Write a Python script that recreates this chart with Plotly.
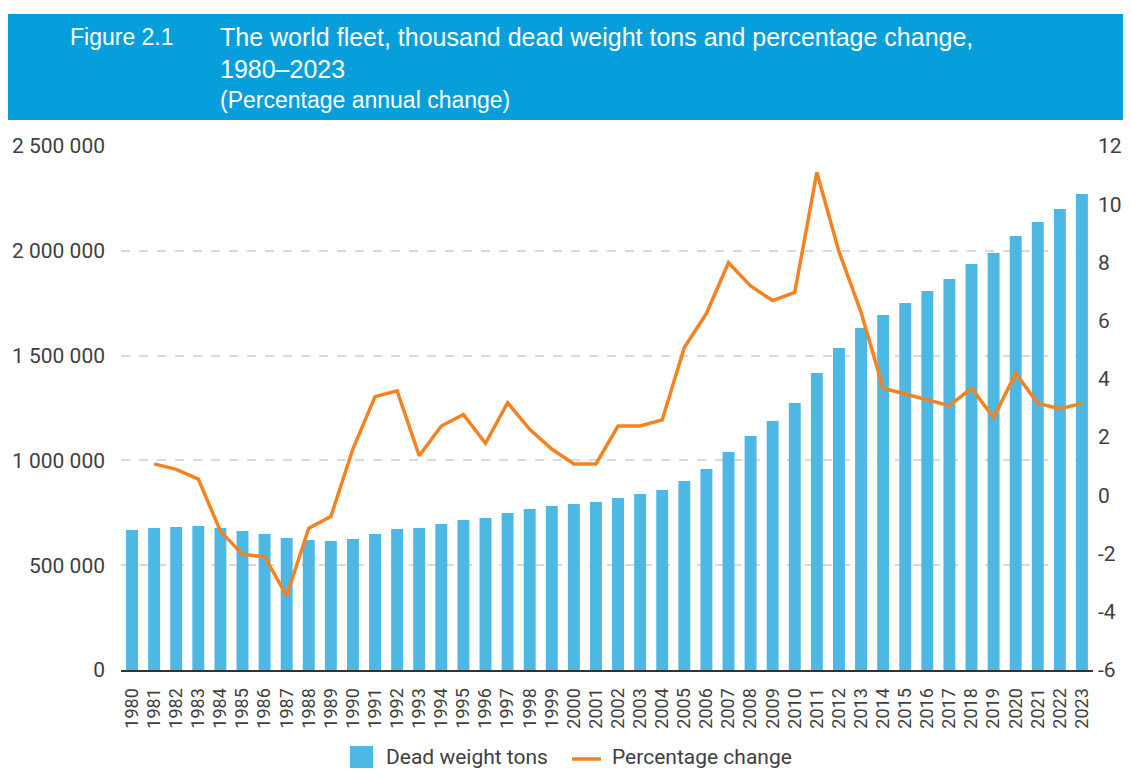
import plotly.graph_objects as go
from plotly.subplots import make_subplots

years = [str(y) for y in range(1980, 2024)]

dwt_thousand = [
    668000, 677000, 682000, 687000, 677000, 663000, 649000, 630000, 620000, 615000,
    625000, 649000, 673000, 677000, 697000, 716000, 725000, 749000, 768000, 782000,
    792000, 802000, 821000, 840000, 859000, 902000, 959000, 1040000, 1116000, 1188000,
    1274000, 1417000, 1536000, 1632000, 1694000, 1751000, 1808000, 1865000, 1937000, 1990000,
    2071000, 2137000, 2200000, 2271000,
]

pct_change = [
    None, 1.08, 0.89, 0.56, -1.23, -2.03, -2.11, -3.45, -1.13, -0.73,
    1.60, 3.39, 3.59, 1.36, 2.38, 2.78, 1.79, 3.18, 2.27, 1.59,
    1.08, 1.08, 2.38, 2.38, 2.59, 5.08, 6.25, 7.99, 7.19, 6.69,
    6.97, 11.10, 8.37, 6.29, 3.68, 3.48, 3.27, 3.08, 3.68, 2.67,
    4.19, 3.16, 2.98, 3.16,
]

left_tickvals = [0, 500000, 1000000, 1500000, 2000000, 2500000]
left_ticktext = ["0", "500 000", "1 000 000", "1 500 000", "2 000 000", "2 500 000"]
right_tickvals = [-6, -4, -2, 0, 2, 4, 6, 8, 10, 12]
right_ticktext = ["-6", "-4", "-2", "0", "2", "4", "6", "8", "10", "12"]

series_names = ["Dead weight tons", "Percentage change"]

fig_title_label = "Figure 2.1"
fig_title_line1 = "The world fleet, thousand dead weight tons and percentage change,"
fig_title_line2 = "1980–2023"
fig_subtitle = "(Percentage annual change)"

# page offset of the plot div (body margin); visible area is 8..1123 horizontally
OFF = 8
W, H = 1131 - 2 * OFF, 773 - OFF
PLOT_L, PLOT_R, PLOT_T, PLOT_B = 121, 1093, 146, 670
ML, MT = PLOT_L - OFF, PLOT_T - OFF
MR = W - (PLOT_R - OFF)
MB = H - (PLOT_B - OFF)
PW, PH = W - ML - MR, H - MT - MB


def px_x(p):
    return (p - OFF - ML) / PW


def px_y(p):
    return (H - MB - (p - OFF)) / PH


BLUE = "#4EB8E4"
ORANGE = "#F58220"
TXT = "#404040"

fig = make_subplots(specs=[[{"secondary_y": True}]])

fig.add_trace(
    go.Bar(x=years, y=dwt_thousand, name=series_names[0], marker_color=BLUE,
           marker_line_width=0),
    secondary_y=False,
)
fig.add_trace(
    go.Scatter(x=years, y=pct_change, name=series_names[1], mode="lines",
               line=dict(color=ORANGE, width=3.5)),
    secondary_y=True,
)

fig.update_layout(
    width=W, height=H,
    margin=dict(l=ML, r=MR, t=MT, b=MB, pad=0),
    paper_bgcolor="white", plot_bgcolor="white",
    bargap=0.46,
    font=dict(family="Roboto", size=20, color=TXT),
    showlegend=False,
)

fig.update_xaxes(
    type="category", range=[-0.5, 43.5], tickangle=-90, domain=[0, 1],
    tickfont=dict(family="Roboto", size=18, color=TXT),
    showgrid=False, showline=True, linecolor="#333333", linewidth=2,
    ticks="", ticklabelstandoff=9, automargin=False,
)
fig.update_yaxes(
    range=[0, 2500000], tickvals=left_tickvals, ticktext=left_ticktext,
    tickfont=dict(family="Roboto", size=21, color=TXT),
    showgrid=True, gridcolor="#D9D9D9", gridwidth=1.5, griddash="dash",
    zeroline=False, showline=False, ticks="", ticklabelstandoff=15,
    automargin=False, secondary_y=False,
)
fig.update_yaxes(
    range=[-6, 12], tickvals=right_tickvals, ticktext=right_ticktext,
    tickfont=dict(family="Roboto", size=21, color=TXT),
    showgrid=False, zeroline=False, showline=False, ticks="",
    ticklabelstandoff=4, automargin=False, secondary_y=True,
)

# Header band
fig.add_shape(type="rect", xref="paper", yref="paper",
              x0=px_x(7), x1=px_x(1140), y0=px_y(120), y1=px_y(14),
              fillcolor="#079FDB", line_width=0, layer="above")

hdr_font = dict(family="Liberation Sans", size=25, color="white")
lbl_font = dict(family="Liberation Sans", size=23, color="white")
sub_font = dict(family="Liberation Sans", size=23, color="white")
fig.add_annotation(text=fig_title_label, xref="paper", yref="paper",
                   x=px_x(68), y=px_y(37), xanchor="left", yanchor="middle",
                   showarrow=False, font=lbl_font)
fig.add_annotation(text=fig_title_line1, xref="paper", yref="paper",
                   x=px_x(218), y=px_y(37), xanchor="left", yanchor="middle",
                   showarrow=False, font=hdr_font)
fig.add_annotation(text=fig_title_line2, xref="paper", yref="paper",
                   x=px_x(218), y=px_y(69), xanchor="left", yanchor="middle",
                   showarrow=False, font=hdr_font)
fig.add_annotation(text=fig_subtitle, xref="paper", yref="paper",
                   x=px_x(218), y=px_y(100), xanchor="left", yanchor="middle",
                   showarrow=False, font=sub_font)

# Legend (drawn manually to match the reference's large key)
LEG_Y = 757
fig.add_shape(type="rect", xref="paper", yref="paper",
              x0=px_x(350), x1=px_x(373), y0=px_y(LEG_Y + 11), y1=px_y(LEG_Y - 11),
              fillcolor=BLUE, line_width=0)
fig.add_annotation(text=series_names[0], xref="paper", yref="paper",
                   x=px_x(384), y=px_y(LEG_Y), xanchor="left", yanchor="middle",
                   showarrow=False, font=dict(family="Roboto", size=21, color=TXT))
fig.add_shape(type="line", xref="paper", yref="paper",
              x0=px_x(572), x1=px_x(601), y0=px_y(LEG_Y + 2), y1=px_y(LEG_Y + 2),
              line=dict(color=ORANGE, width=3.5))
fig.add_annotation(text=series_names[1], xref="paper", yref="paper",
                   x=px_x(610), y=px_y(LEG_Y), xanchor="left", yanchor="middle",
                   showarrow=False, font=dict(family="Roboto", size=21, color=TXT))

fig.write_html("out.html")
